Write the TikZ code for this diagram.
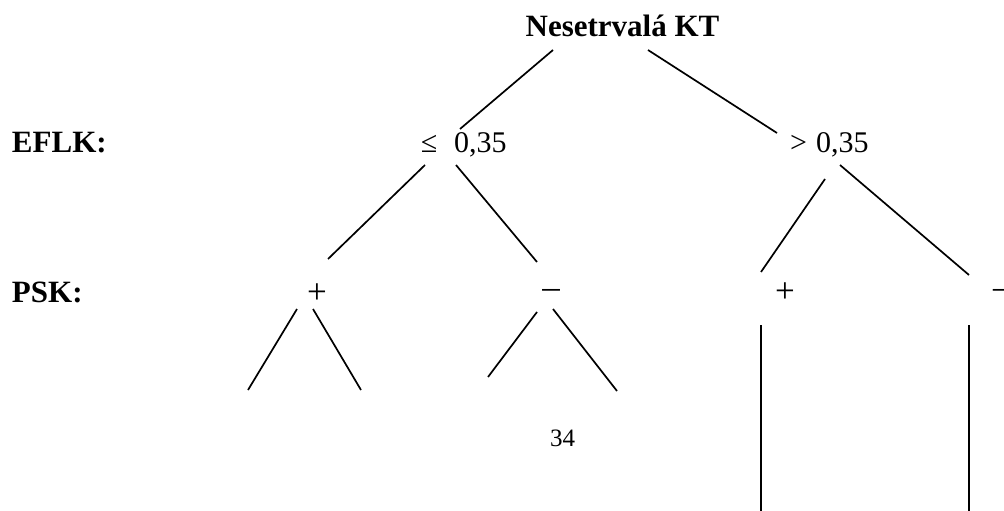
\documentclass[tikz,border=0pt]{standalone}
\usepackage{fontspec}
\setmainfont{Liberation Serif}
\begin{document}
\begin{tikzpicture}[x=1pt,y=-1pt,
  lbl/.style={inner sep=0pt,outer sep=0pt,font=\fontsize{30}{36}\selectfont},
  sign/.style={inner sep=0pt,outer sep=0pt,font=\fontsize{35}{40}\selectfont},
  head/.style={inner sep=0pt,outer sep=0pt,font=\fontsize{31}{37}\selectfont\bfseries},
  pg/.style={inner sep=0pt,outer sep=0pt,font=\fontsize{25}{30}\selectfont},
  edge/.style={line width=1.7pt,black}]
\useasboundingbox (0,0) rectangle (1004,511);

% headings and level captions
\node[head,anchor=base] (root) at (622.5,37) {Nesetrvalá KT};
\node[head,anchor=base west] (eflk) at (12,152) {EFLK:};
\node[head,anchor=base west] (psk) at (12,302) {PSK:};

% EFLK values
\node[lbl,anchor=base] (le) at (429,152) {≤};
\node[lbl,anchor=base west] (lv) at (454,152) {0,35};
\node[lbl,anchor=base] (gt) at (798.5,152) {>};
\node[lbl,anchor=base west] (gv) at (816,152) {0,35};

% PSK values
\node[sign] (p1) at (317,294) {+};
\node[sign] (m1) at (551,294) {–};
\node[sign] (p2) at (785,293) {+};
\node[sign,anchor=west] (m2) at (993,294) {–};

% page number
\node[pg,anchor=base west] (pgno) at (550,446) {34};

% branch end points
\coordinate (r1a) at (553,50);  \coordinate (r1b) at (460,129);
\coordinate (r2a) at (648,50);  \coordinate (r2b) at (777,133);
\coordinate (l1a) at (425,165); \coordinate (l1b) at (328,259);
\coordinate (l2a) at (456,165); \coordinate (l2b) at (537,262);
\coordinate (g1a) at (825,179); \coordinate (g1b) at (761,272);
\coordinate (g2a) at (840,165); \coordinate (g2b) at (969,275);
\coordinate (a1a) at (297,309); \coordinate (a1b) at (248,390);
\coordinate (a2a) at (313,309); \coordinate (a2b) at (361,390);
\coordinate (b1a) at (537,312); \coordinate (b1b) at (488,377);
\coordinate (b2a) at (553,309); \coordinate (b2b) at (617,391);
\coordinate (c1a) at (761,325); \coordinate (c1b) at (761,511);
\coordinate (c2a) at (969,325); \coordinate (c2b) at (969,511);

% branches
\draw[edge] (r1a) -- (r1b);
\draw[edge] (r2a) -- (r2b);
\draw[edge] (l1a) -- (l1b);
\draw[edge] (l2a) -- (l2b);
\draw[edge] (g1a) -- (g1b);
\draw[edge] (g2a) -- (g2b);
\draw[edge] (a1a) -- (a1b);
\draw[edge] (a2a) -- (a2b);
\draw[edge] (b1a) -- (b1b);
\draw[edge] (b2a) -- (b2b);
\draw[edge] (c1a) -- (c1b);
\draw[edge] (c2a) -- (c2b);
\end{tikzpicture}
\end{document}
